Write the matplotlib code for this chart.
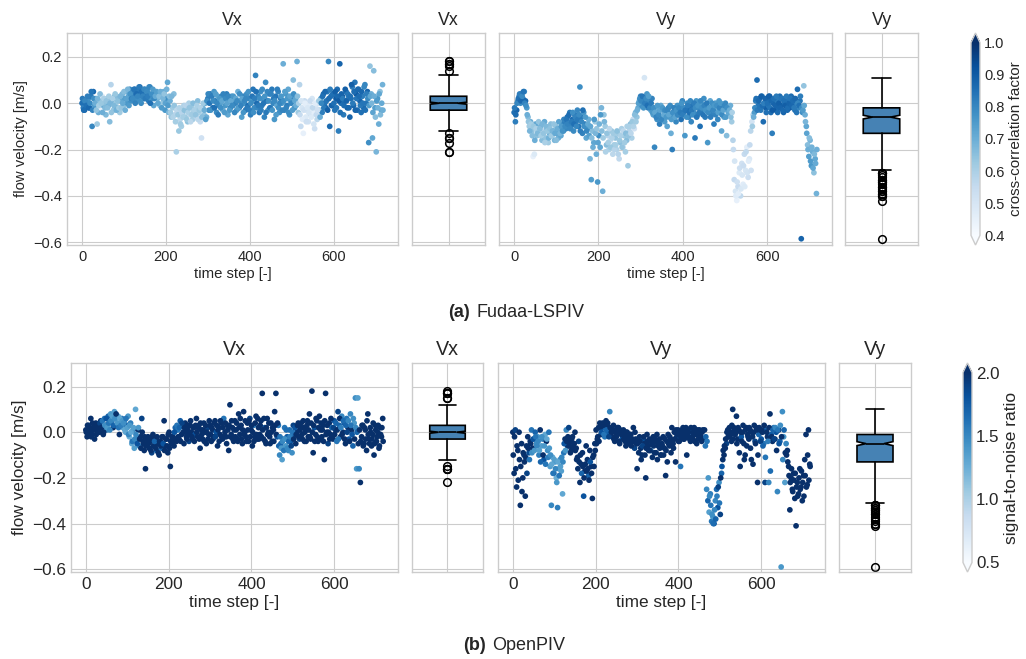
import numpy as np
import matplotlib
matplotlib.use("Agg")
import matplotlib.pyplot as plt
from matplotlib.colors import Normalize
from matplotlib.cm import ScalarMappable

plt.style.use("seaborn-v0_8-whitegrid")
plt.rcParams["font.family"] = ["Liberation Sans", "DejaVu Sans"]

# ---------------------------------------------------------------- data
# two interleaved samplings of the 720-frame sequence
time_step_a = np.arange(0, 720, 3)
time_step_b = np.arange(1, 720, 3)

# (a) Fudaa-LSPIV, frames 0, 3, 6, ...
fud_vx_a = [
    0.00, -0.02, -0.03, 0.01, -0.01, 0.02, -0.02, 0.03, -0.10, 0.05,
    -0.01, 0.02, -0.09, -0.04, 0.01, -0.02, 0.03, -0.01, 0.00, -0.05,
    0.02, -0.01, -0.08, 0.08, 0.01, -0.03, 0.03, 0.00, -0.02, 0.02,
    -0.04, 0.01, 0.04, -0.01, 0.02, 0.05, 0.00, 0.03, 0.06, 0.01,
    0.04, 0.02, 0.06, 0.01, 0.05, 0.03, 0.07, 0.00, 0.04, 0.02,
    0.06, 0.03, 0.05, 0.01, 0.07, 0.02, 0.04, -0.01, 0.05, 0.03,
    0.02, 0.04, -0.01, 0.03, 0.00, 0.05, -0.03, 0.02, 0.09, -0.04,
    0.01, -0.06, -0.02, 0.04, -0.05, -0.21, -0.03, -0.12, -0.07, -0.10,
    -0.04, -0.01, -0.06, -0.03, -0.08, 0.00, -0.05, -0.02, -0.07, -0.04,
    -0.03, -0.06, 0.01, -0.04, -0.08, -0.15, -0.02, -0.05, 0.00, -0.06,
    0.02, -0.03, 0.04, 0.00, -0.02, 0.05, 0.01, -0.04, 0.03, -0.01,
    0.00, 0.03, -0.03, 0.02, -0.01, 0.04, -0.05, 0.01, -0.02, 0.03,
    -0.01, 0.02, 0.00, -0.03, 0.05, -0.02, 0.01, -0.06, 0.03, 0.00,
    -0.03, 0.04, -0.01, 0.02, -0.05, 0.01, 0.06, -0.02, 0.12, 0.00,
    0.03, -0.04, 0.05, -0.01, 0.02, -0.06, 0.09, 0.01, -0.03, 0.04,
    -0.02, 0.06, 0.00, -0.07, 0.03, -0.01, 0.05, -0.04, 0.02, 0.00,
    0.17, -0.03, 0.04, -0.01, 0.06, -0.05, 0.01, 0.03, 0.10, -0.02,
    0.02, 0.18, -0.04, 0.08, -0.10, -0.02, -0.13, 0.01, -0.06, -0.03,
    -0.08, -0.01, -0.05, 0.02, -0.04, -0.11, -0.02, -0.07, 0.00, -0.03,
    0.02, -0.04, 0.04, 0.00, -0.02, 0.05, 0.18, -0.10, 0.03, -0.01,
    0.04, -0.03, 0.02, 0.06, -0.12, 0.17, 0.00, 0.03, -0.05, 0.01,
    0.05, -0.02, 0.03, -0.06, 0.02, 0.07, -0.01, 0.09, 0.04, -0.03,
    0.06, 0.01, -0.04, 0.03, -0.02, 0.08, 0.00, 0.05, -0.17, 0.16,
    0.04, -0.15, 0.14, -0.02, -0.21, 0.02, -0.09, 0.05, -0.03, 0.08,
]
fud_vy_a = [
    -0.04, -0.08, -0.03, 0.01, 0.03, 0.00, 0.04, 0.02, 0.05, 0.01,
    -0.02, -0.06, -0.10, -0.08, -0.12, -0.23, -0.22, -0.09, -0.14, -0.11,
    -0.13, -0.10, -0.16, -0.12, -0.08, -0.15, -0.11, -0.17, -0.13, -0.09,
    -0.14, -0.12, -0.16, -0.10, -0.13, -0.15, -0.11, -0.14, -0.09, -0.12,
    -0.08, -0.11, -0.06, -0.09, -0.04, -0.10, -0.07, -0.12, -0.05, -0.08,
    -0.03, -0.10, 0.07, -0.06, -0.13, -0.04, -0.09, -0.15, -0.11, -0.07,
    -0.24, -0.33, -0.12, -0.17, -0.08, -0.22, -0.34, -0.14, -0.19, -0.02,
    -0.38, -0.05, -0.10, -0.18, -0.14, -0.20, -0.16, -0.12, -0.22, -0.18,
    -0.15, -0.20, -0.13, -0.24, -0.17, -0.11, -0.19, -0.14, -0.21, -0.16,
    -0.27, -0.12, -0.09, -0.15, -0.07, -0.11, -0.04, -0.06, -0.02, 0.01,
    0.03, -0.01, 0.02, 0.11, 0.00, 0.04, -0.02, 0.01, -0.03, 0.02,
    -0.05, -0.19, -0.02, -0.07, -0.04, -0.09, -0.01, -0.06, -0.03, -0.08,
    -0.04, -0.10, -0.02, -0.06, -0.13, -0.20, -0.05, -0.03, -0.08, -0.01,
    -0.05, -0.02, -0.07, 0.01, -0.04, -0.14, -0.03, 0.00, -0.06, -0.02,
    -0.08, -0.01, -0.04, -0.15, 0.01, -0.05, -0.02, -0.10, 0.00, -0.03,
    0.02, -0.06, -0.01, -0.17, -0.03, 0.01, -0.05, -0.02, -0.09, 0.00,
    -0.03, -0.07, 0.01, -0.04, -0.12, -0.02, -0.06, 0.00, -0.14, -0.03,
    -0.05, -0.01, -0.08, -0.16, -0.33, -0.38, -0.42, -0.36, -0.30, -0.40,
    -0.26, -0.35, -0.22, -0.29, -0.19, -0.32, -0.24, -0.12, -0.08, -0.05,
    -0.04, 0.01, 0.10, -0.01, 0.02, -0.03, 0.03, -0.08, 0.00, -0.02,
    0.02, -0.01, 0.03, -0.04, -0.13, 0.00, 0.02, -0.03, 0.01, -0.02,
    0.03, -0.01, 0.02, -0.04, 0.00, 0.01, -0.03, 0.02, -0.02, 0.03,
    -0.01, 0.02, -0.03, 0.00, 0.06, -0.02, 0.01, -0.585, -0.04, 0.075,
    -0.05, -0.10, -0.18, -0.23, -0.16, -0.27, -0.21, -0.30, -0.24, -0.39,
]
fud_cc_a = [
    0.85, 0.82, 0.88, 0.80, 0.84, 0.78, 0.86, 0.83, 0.80, 0.87,
    0.75, 0.66, 0.62, 0.70, 0.64, 0.45, 0.48, 0.72, 0.65, 0.67,
    0.63, 0.69, 0.66, 0.58, 0.71, 0.64, 0.68, 0.62, 0.70, 0.66,
    0.62, 0.72, 0.68, 0.65, 0.74, 0.70, 0.76, 0.72, 0.80, 0.78,
    0.82, 0.80, 0.85, 0.78, 0.83, 0.81, 0.86, 0.79, 0.84, 0.82,
    0.80, 0.84, 0.78, 0.83, 0.81, 0.77, 0.82, 0.72, 0.76, 0.70,
    0.68, 0.74, 0.66, 0.72, 0.63, 0.70, 0.76, 0.78, 0.72, 0.68,
    0.70, 0.64, 0.62, 0.66, 0.58, 0.60, 0.55, 0.63, 0.57, 0.61,
    0.64, 0.59, 0.62, 0.56, 0.65, 0.60, 0.58, 0.63, 0.61, 0.66,
    0.62, 0.58, 0.66, 0.60, 0.55, 0.52, 0.68, 0.64, 0.72, 0.70,
    0.82, 0.78, 0.84, 0.50, 0.86, 0.76, 0.83, 0.79, 0.72, 0.81,
    0.74, 0.80, 0.70, 0.78, 0.76, 0.82, 0.72, 0.77, 0.80, 0.75,
    0.79, 0.73, 0.81, 0.76, 0.70, 0.82, 0.78, 0.74, 0.80, 0.77,
    0.83, 0.78, 0.85, 0.80, 0.82, 0.76, 0.84, 0.79, 0.81, 0.86,
    0.80, 0.84, 0.78, 0.83, 0.76, 0.81, 0.79, 0.85, 0.74, 0.82,
    0.78, 0.83, 0.80, 0.76, 0.84, 0.72, 0.81, 0.78, 0.82, 0.75,
    0.70, 0.80, 0.76, 0.82, 0.72, 0.78, 0.74, 0.80, 0.66, 0.77,
    0.73, 0.70, 0.62, 0.58, 0.55, 0.50, 0.45, 0.54, 0.48, 0.56,
    0.52, 0.47, 0.55, 0.50, 0.46, 0.53, 0.49, 0.57, 0.51, 0.60,
    0.75, 0.82, 0.86, 0.84, 0.88, 0.83, 0.80, 0.86, 0.85, 0.89,
    0.87, 0.84, 0.90, 0.86, 0.82, 0.88, 0.85, 0.91, 0.83, 0.87,
    0.86, 0.89, 0.84, 0.88, 0.85, 0.82, 0.87, 0.84, 0.90, 0.86,
    0.84, 0.88, 0.85, 0.82, 0.86, 0.80, 0.84, 0.88, 0.78, 0.64,
    0.70, 0.72, 0.66, 0.74, 0.68, 0.76, 0.70, 0.65, 0.72, 0.69,
]

# (a) Fudaa-LSPIV, frames 1, 4, 7, ...
fud_vx_b = [
    0.02, -0.03, 0.01, -0.01, 0.03, -0.02, 0.00, 0.05, -0.03, 0.02,
    0.00, -0.03, 0.02, -0.01, 0.04, 0.00, -0.04, 0.02, -0.02, 0.01,
    -0.02, 0.03, 0.00, -0.04, 0.02, -0.01, 0.04, -0.03, 0.01, -0.02,
    0.03, -0.02, 0.00, 0.05, -0.03, 0.02, 0.06, -0.01, 0.04, 0.02,
    0.02, 0.06, 0.00, 0.04, 0.03, 0.07, 0.01, 0.05, 0.03, 0.06,
    0.02, 0.05, 0.03, 0.07, 0.00, 0.04, 0.06, 0.02, 0.03, 0.05,
    0.00, 0.03, 0.05, -0.02, 0.02, 0.04, 0.00, 0.06, -0.01, 0.03,
    -0.04, 0.03, -0.06, -0.01, -0.08, -0.03, -0.05, -0.02, -0.09, -0.04,
    -0.06, -0.03, -0.01, -0.07, -0.04, -0.02, -0.08, -0.05, 0.00, -0.03,
    -0.05, -0.01, -0.07, -0.03, -0.02, -0.06, 0.00, -0.03, -0.07, 0.01,
    0.04, 0.00, -0.03, 0.03, 0.01, -0.02, 0.04, 0.00, -0.05, 0.02,
    -0.02, 0.01, 0.04, -0.04, 0.02, 0.00, 0.03, -0.03, 0.01, -0.01,
    0.03, -0.04, 0.02, 0.01, -0.02, 0.04, -0.01, 0.02, -0.04, 0.01,
    0.02, -0.02, 0.05, -0.03, 0.00, 0.03, -0.04, 0.02, 0.05, -0.02,
    -0.01, 0.02, -0.03, 0.06, 0.00, 0.03, -0.04, 0.05, 0.01, -0.02,
    0.04, -0.03, 0.02, 0.01, -0.05, 0.06, -0.02, 0.00, 0.03, -0.03,
    0.01, 0.05, -0.02, 0.02, -0.04, 0.03, 0.00, -0.03, 0.04, 0.01,
    -0.01, 0.03, 0.00, -0.05, 0.01, -0.07, -0.03, 0.00, -0.08, -0.02,
    -0.04, 0.01, -0.06, -0.02, -0.09, 0.00, -0.05, -0.03, 0.01, -0.06,
    0.00, 0.03, -0.02, 0.05, 0.01, -0.03, 0.02, 0.06, -0.01, 0.04,
    0.00, 0.05, -0.02, 0.03, 0.01, -0.04, 0.04, 0.02, -0.01, 0.06,
    0.01, 0.04, -0.02, 0.03, 0.08, 0.00, 0.05, -0.03, 0.02, 0.06,
    0.03, -0.01, 0.05, 0.00, 0.07, -0.03, 0.04, 0.02, -0.01, 0.03,
    0.00, -0.04, 0.03, -0.06, 0.01, -0.02, 0.04, -0.05, 0.00, -0.03,
]
fud_vy_b = [
    -0.02, -0.05, 0.00, 0.02, 0.04, 0.01, 0.03, 0.05, 0.00, -0.01,
    -0.05, -0.08, -0.12, -0.09, -0.14, -0.10, -0.16, -0.11, -0.13, -0.08,
    -0.11, -0.14, -0.09, -0.13, -0.17, -0.10, -0.12, -0.15, -0.11, -0.14,
    -0.12, -0.09, -0.13, -0.16, -0.11, -0.08, -0.13, -0.10, -0.12, -0.07,
    -0.10, -0.07, -0.09, -0.05, -0.11, -0.08, -0.04, -0.09, -0.06, -0.10,
    -0.07, -0.05, -0.12, -0.08, -0.03, -0.10, -0.06, -0.12, -0.09, -0.14,
    -0.10, -0.15, -0.19, -0.07, -0.13, -0.11, -0.17, -0.09, -0.05, -0.12,
    -0.15, -0.08, -0.21, -0.13, -0.17, -0.11, -0.19, -0.15, -0.13, -0.20,
    -0.18, -0.12, -0.22, -0.16, -0.14, -0.19, -0.12, -0.17, -0.13, -0.10,
    -0.14, -0.10, -0.13, -0.08, -0.10, -0.05, -0.08, -0.03, 0.00, 0.02,
    0.01, 0.03, -0.02, 0.00, 0.02, -0.01, 0.03, -0.02, 0.00, -0.04,
    -0.02, -0.04, -0.06, -0.01, -0.05, -0.03, -0.07, -0.02, -0.05, -0.03,
    -0.06, -0.03, -0.05, -0.01, -0.07, -0.04, -0.02, -0.06, -0.03, -0.05,
    -0.02, -0.04, 0.00, -0.05, -0.02, -0.03, -0.06, -0.01, -0.04, 0.01,
    -0.03, -0.05, 0.00, -0.02, -0.06, -0.01, -0.04, 0.01, -0.02, -0.05,
    -0.01, -0.03, 0.00, -0.04, -0.02, -0.06, 0.00, -0.03, -0.01, -0.05,
    -0.01, -0.04, -0.02, 0.00, -0.05, -0.03, -0.01, -0.06, -0.02, -0.04,
    -0.03, -0.06, -0.04, -0.20, -0.25, -0.40, -0.34, -0.39, -0.28, -0.37,
    -0.31, -0.27, -0.36, -0.21, -0.30, -0.25, -0.18, -0.29, -0.10, -0.06,
    -0.02, 0.02, -0.03, 0.01, -0.02, 0.03, -0.01, 0.00, 0.02, -0.04,
    0.00, 0.03, -0.02, 0.01, -0.03, 0.02, -0.01, 0.03, -0.04, 0.00,
    -0.02, 0.02, -0.03, 0.01, -0.01, 0.03, -0.02, 0.00, 0.02, -0.01,
    0.01, -0.02, 0.02, -0.04, 0.00, -0.01, 0.03, -0.02, -0.03, -0.01,
    -0.08, -0.13, -0.20, -0.15, -0.25, -0.19, -0.28, -0.22, -0.26, -0.20,
]
fud_cc_b = [
    0.83, 0.86, 0.80, 0.85, 0.82, 0.87, 0.79, 0.84, 0.81, 0.78,
    0.70, 0.64, 0.68, 0.61, 0.66, 0.63, 0.70, 0.60, 0.67, 0.64,
    0.66, 0.61, 0.68, 0.64, 0.60, 0.67, 0.63, 0.69, 0.65, 0.62,
    0.68, 0.64, 0.71, 0.66, 0.70, 0.73, 0.68, 0.75, 0.77, 0.81,
    0.79, 0.84, 0.81, 0.86, 0.80, 0.83, 0.78, 0.85, 0.81, 0.80,
    0.83, 0.79, 0.82, 0.80, 0.85, 0.78, 0.75, 0.80, 0.71, 0.74,
    0.72, 0.66, 0.70, 0.75, 0.68, 0.64, 0.73, 0.69, 0.75, 0.66,
    0.62, 0.68, 0.59, 0.64, 0.61, 0.57, 0.63, 0.59, 0.62, 0.58,
    0.61, 0.65, 0.58, 0.63, 0.60, 0.64, 0.57, 0.62, 0.66, 0.60,
    0.64, 0.60, 0.57, 0.63, 0.59, 0.66, 0.62, 0.70, 0.74, 0.78,
    0.80, 0.84, 0.77, 0.82, 0.79, 0.85, 0.74, 0.80, 0.83, 0.76,
    0.78, 0.72, 0.81, 0.75, 0.79, 0.73, 0.80, 0.76, 0.71, 0.79,
    0.76, 0.80, 0.72, 0.79, 0.75, 0.78, 0.81, 0.73, 0.77, 0.80,
    0.80, 0.83, 0.77, 0.82, 0.79, 0.84, 0.78, 0.82, 0.85, 0.80,
    0.83, 0.78, 0.82, 0.79, 0.84, 0.77, 0.83, 0.80, 0.78, 0.84,
    0.81, 0.77, 0.83, 0.79, 0.75, 0.82, 0.78, 0.80, 0.76, 0.81,
    0.78, 0.74, 0.81, 0.76, 0.79, 0.73, 0.80, 0.75, 0.78, 0.72,
    0.70, 0.66, 0.60, 0.55, 0.50, 0.47, 0.52, 0.46, 0.53, 0.49,
    0.50, 0.54, 0.48, 0.56, 0.51, 0.47, 0.55, 0.52, 0.62, 0.70,
    0.80, 0.85, 0.83, 0.87, 0.84, 0.89, 0.86, 0.82, 0.88, 0.85,
    0.85, 0.89, 0.84, 0.87, 0.90, 0.85, 0.88, 0.83, 0.86, 0.89,
    0.88, 0.84, 0.87, 0.85, 0.89, 0.83, 0.86, 0.88, 0.84, 0.87,
    0.86, 0.83, 0.87, 0.84, 0.80, 0.85, 0.82, 0.79, 0.75, 0.72,
    0.68, 0.73, 0.70, 0.66, 0.75, 0.69, 0.72, 0.67, 0.71, 0.70,
]

# (b) OpenPIV, frames 0, 3, 6, ...
opv_vx_a = [
    0.01, -0.02, 0.03, 0.00, 0.06, -0.01, 0.02, -0.03, 0.04, 0.01,
    0.03, 0.00, 0.05, 0.02, -0.01, 0.06, 0.03, 0.01, 0.07, 0.04,
    0.08, 0.05, 0.02, 0.09, 0.06, 0.03, 0.07, -0.01, 0.04, 0.06,
    0.02, 0.05, 0.00, 0.03, 0.07, -0.02, 0.04, -0.05, 0.01, -0.07,
    0.10, -0.03, 0.01, -0.06, -0.02, 0.06, -0.04, -0.08, -0.16, -0.05,
    -0.02, -0.07, -0.04, -0.09, -0.01, -0.06, -0.03, -0.08, -0.05, -0.10,
    -0.04, -0.07, -0.02, 0.05, -0.06, -0.03, -0.09, 0.00, -0.15, -0.05,
    -0.02, -0.06, 0.02, -0.04, 0.01, -0.03, 0.05, -0.01, 0.03, -0.05,
    0.04, -0.02, 0.01, -0.04, 0.03, 0.00, -0.03, 0.02, -0.01, 0.06,
    -0.02, 0.03, -0.07, 0.01, -0.03, 0.04, 0.00, -0.05, 0.02, -0.01,
    0.03, -0.04, 0.01, -0.02, 0.05, 0.00, -0.06, 0.02, -0.01, 0.04,
    -0.03, 0.06, 0.00, -0.02, 0.03, -0.08, 0.12, -0.01, 0.02, -0.04,
    0.05, 0.01, -0.03, 0.08, -0.01, 0.03, -0.05, 0.09, 0.00, -0.02,
    0.04, -0.04, 0.06, 0.01, -0.06, 0.03, -0.02, 0.07, -0.03, 0.02,
    -0.01, 0.05, 0.17, -0.03, 0.02, -0.05, 0.06, 0.00, -0.02, 0.04,
    -0.04, 0.01, 0.09, 0.17, -0.02, 0.03, -0.10, -0.05, -0.12, -0.03,
    0.02, -0.06, -0.02, -0.08, 0.01, -0.04, -0.09, 0.03, -0.01, -0.05,
    0.00, 0.04, -0.03, 0.02, -0.01, 0.05, -0.04, 0.01, 0.03, -0.02,
    0.08, -0.03, 0.18, -0.09, 0.02, -0.01, 0.05, -0.04, 0.07, 0.01,
    -0.02, 0.03, -0.12, 0.17, 0.00, -0.05, 0.04, -0.01, 0.02, -0.03,
    0.05, 0.01, -0.04, 0.09, 0.03, -0.02, 0.07, 0.00, 0.04, -0.05,
    0.06, 0.02, -0.03, 0.08, 0.01, -0.06, 0.04, 0.15, -0.16, 0.15,
    -0.16, -0.22, -0.02, 0.03, -0.05, 0.01, -0.08, 0.08, -0.03, 0.02,
    -0.06, -0.01, -0.10, 0.03, -0.04, 0.00, -0.07, 0.02, -0.02, 0.06,
]
opv_vy_a = [
    0.00, -0.18, 0.01, -0.24, -0.08, 0.00, -0.32, -0.05, -0.20, -0.10,
    -0.28, -0.06, -0.02, -0.09, -0.04, 0.01, -0.07, -0.03, 0.00, -0.05,
    -0.02, -0.10, 0.01, -0.06, -0.03, -0.12, -0.01, -0.04, -0.08, 0.00,
    -0.15, -0.32, -0.11, -0.18, -0.13, -0.20, -0.33, -0.16, -0.12, -0.17,
    -0.27, -0.09, -0.03, 0.01, -0.06, 0.02, -0.04, -0.08, -0.02, -0.05,
    0.00, -0.07, -0.11, -0.04, -0.22, -0.14, -0.09, -0.28, -0.17, -0.06,
    -0.12, -0.19, -0.08, -0.15, -0.29, -0.10, -0.05, 0.01, -0.03, 0.02,
    0.04, -0.01, 0.02, 0.03, -0.02, 0.05, 0.00, 0.02, 0.09, 0.01,
    -0.02, 0.03, -0.04, 0.01, -0.01, 0.02, -0.05, 0.00, -0.03, 0.01,
    -0.02, -0.06, 0.00, -0.03, -0.05, -0.01, -0.04, 0.02, -0.07, -0.03,
    -0.16, -0.04, -0.02, -0.07, -0.10, -0.03, -0.05, -0.20, -0.01, -0.06,
    -0.03, -0.08, -0.05, -0.02, -0.09, -0.04, -0.01, -0.06, -0.03, -0.10,
    -0.05, -0.02, -0.07, -0.19, -0.04, -0.01, -0.06, -0.03, 0.02, -0.05,
    0.00, -0.13, -0.02, 0.01, -0.04, -0.15, -0.01, 0.02, -0.03, 0.00,
    -0.10, -0.02, 0.01, -0.04, 0.00, -0.03, 0.02, -0.01, -0.05, 0.01,
    -0.02, 0.00, -0.04, 0.01, -0.03, -0.06, -0.25, -0.30, -0.35, -0.27,
    -0.39, -0.37, -0.40, -0.30, -0.25, -0.33, -0.22, -0.36, -0.18, -0.12,
    -0.10, -0.07, -0.05, 0.01, -0.02, 0.00, -0.04, 0.10, 0.02, -0.01,
    0.07, -0.03, 0.01, -0.15, -0.02, 0.00, -0.05, -0.10, 0.02, -0.01,
    -0.03, 0.01, -0.12, -0.02, 0.00, -0.04, 0.02, -0.22, -0.01, 0.01,
    -0.03, 0.00, -0.05, -0.22, 0.01, -0.02, -0.22, 0.08, -0.01, -0.04,
    0.02, -0.03, 0.00, -0.26, 0.01, -0.04, -0.59, 0.09, -0.02, -0.22,
    -0.05, -0.08, -0.15, -0.34, -0.20, -0.25, -0.18, -0.29, -0.41, -0.22,
    -0.27, -0.16, -0.24, -0.30, -0.19, -0.12, -0.01, -0.23, 0.01, -0.14,
]
opv_snr_a = [
    2.6, 2.3, 1.9, 2.8, 2.4, 2.1, 2.7, 2.2, 2.5, 1.95,
    2.4, 2.0, 2.6, 1.85, 2.2, 1.6, 2.3, 1.5, 1.7, 1.45,
    1.4, 1.55, 2.1, 1.35, 1.5, 1.8, 1.3, 2.4, 1.45, 1.6,
    1.35, 1.5, 1.3, 1.7, 1.4, 1.25, 1.55, 1.3, 1.45, 1.35,
    1.3, 1.6, 2.2, 1.5, 2.5, 1.9, 2.3, 2.6, 2.4, 2.1,
    2.5, 2.2, 2.7, 1.9, 2.4, 2.6, 2.3, 1.8, 2.5, 2.8,
    2.2, 1.7, 2.6, 2.4, 2.1, 2.7, 2.3, 2.5, 2.6, 2.2,
    2.4, 2.0, 1.7, 2.5, 1.6, 2.3, 1.75, 2.6, 1.5, 2.2,
    2.5, 2.1, 2.7, 1.9, 2.4, 2.6, 2.2, 2.8, 1.8, 2.3,
    2.6, 2.2, 2.4, 2.7, 2.1, 2.5, 2.3, 2.6, 1.9, 2.4,
    2.7, 2.3, 2.5, 2.2, 2.6, 1.8, 2.4, 2.7, 2.1, 2.5,
    2.3, 1.6, 2.6, 2.4, 2.2, 2.5, 2.7, 2.1, 2.6, 2.3,
    2.5, 2.2, 2.8, 2.4, 2.0, 2.6, 2.3, 2.5, 2.1, 2.7,
    2.4, 2.6, 1.9, 2.5, 2.2, 1.6, 2.7, 2.3, 2.5, 2.1,
    2.6, 2.3, 2.8, 2.2, 1.8, 2.5, 2.4, 2.7, 2.1, 2.5,
    2.3, 2.6, 2.4, 2.7, 1.8, 1.6, 1.5, 1.7, 1.35, 1.55,
    1.6, 1.4, 1.75, 1.5, 1.65, 1.8, 1.45, 1.9, 1.7, 2.1,
    2.2, 2.5, 1.9, 2.4, 2.6, 2.3, 2.7, 2.2, 2.5, 2.4,
    2.6, 2.2, 2.8, 2.4, 1.8, 2.5, 2.3, 2.7, 2.1, 2.4,
    2.5, 2.3, 2.6, 2.7, 2.2, 1.9, 2.4, 2.6, 1.7, 2.3,
    1.8, 2.4, 1.6, 1.9, 1.7, 2.3, 1.5, 2.2, 1.75, 2.5,
    1.6, 2.1, 1.8, 1.5, 2.3, 1.7, 1.4, 1.45, 1.4, 1.35,
    1.5, 2.6, 2.3, 2.7, 2.4, 2.8, 2.5, 2.2, 2.6, 2.4,
    2.7, 2.3, 2.5, 2.8, 2.2, 2.6, 2.4, 2.7, 2.3, 2.5,
]

# (b) OpenPIV, frames 1, 4, 7, ...
opv_vx_b = [
    0.00, 0.03, -0.01, 0.02, -0.02, 0.04, 0.01, 0.03, -0.01, 0.02,
    0.01, 0.04, 0.02, 0.05, 0.00, 0.03, 0.06, 0.02, 0.04, 0.01,
    0.05, 0.07, 0.03, 0.06, 0.08, 0.04, 0.02, 0.06, 0.03, 0.05,
    0.04, 0.01, 0.06, 0.02, -0.01, 0.03, 0.00, -0.04, 0.02, -0.03,
    -0.01, -0.05, 0.02, -0.03, -0.07, 0.00, -0.05, -0.02, -0.06, -0.03,
    -0.05, -0.03, -0.08, -0.02, -0.06, -0.04, -0.07, -0.02, -0.09, -0.04,
    -0.06, -0.02, -0.05, -0.08, -0.03, -0.06, -0.01, -0.07, -0.04, -0.02,
    -0.04, 0.00, -0.03, 0.03, -0.02, 0.02, -0.04, 0.04, 0.00, 0.02,
    0.00, -0.03, 0.03, -0.01, 0.05, -0.02, 0.02, -0.04, 0.03, 0.00,
    0.02, -0.03, 0.04, -0.01, 0.01, -0.04, 0.03, 0.00, -0.03, 0.05,
    -0.01, 0.02, -0.03, 0.04, -0.02, 0.03, 0.01, -0.04, 0.05, -0.02,
    0.02, -0.02, 0.04, -0.05, 0.01, 0.03, -0.02, 0.05, -0.03, 0.01,
    -0.02, 0.04, -0.04, 0.02, 0.06, -0.03, 0.01, -0.01, 0.05, -0.04,
    0.01, 0.05, -0.02, 0.03, 0.00, -0.04, 0.04, -0.01, 0.06, -0.03,
    0.03, -0.02, 0.01, 0.06, -0.04, 0.02, -0.01, 0.04, -0.05, 0.00,
    0.02, -0.04, 0.03, -0.01, 0.04, -0.06, -0.02, -0.07, -0.04, -0.08,
    -0.03, 0.01, -0.07, -0.04, -0.02, -0.06, 0.00, -0.03, 0.02, -0.01,
    0.03, -0.02, 0.01, 0.04, -0.03, 0.02, 0.00, -0.04, 0.05, 0.01,
    -0.02, 0.04, 0.00, 0.03, -0.04, 0.06, -0.02, 0.02, -0.03, 0.04,
    0.01, -0.04, 0.05, -0.01, 0.03, 0.00, -0.03, 0.06, -0.02, 0.02,
    -0.01, 0.04, 0.01, -0.03, 0.06, 0.02, -0.01, 0.05, -0.03, 0.03,
    0.00, 0.05, -0.04, 0.03, -0.01, 0.06, -0.03, 0.02, 0.00, -0.05,
    0.01, -0.04, 0.03, -0.06, 0.02, -0.03, 0.05, -0.01, -0.05, 0.00,
    -0.03, 0.04, -0.05, 0.01, -0.02, 0.03, -0.06, -0.01, 0.02, -0.04,
]
opv_vy_b = [
    -0.10, -0.02, -0.16, -0.06, -0.21, -0.12, -0.15, -0.26, -0.09, -0.13,
    -0.11, -0.18, -0.07, -0.12, -0.05, -0.09, -0.03, -0.08, -0.02, -0.06,
    -0.04, -0.08, -0.13, -0.02, -0.10, -0.06, -0.14, -0.03, -0.11, -0.07,
    -0.10, -0.14, -0.18, -0.12, -0.16, -0.22, -0.13, -0.19, -0.15, -0.11,
    -0.13, -0.05, -0.08, -0.04, -0.02, -0.06, -0.09, -0.03, -0.07, -0.05,
    -0.08, -0.12, -0.16, -0.13, -0.10, -0.18, -0.15, -0.20, -0.14, -0.17,
    -0.16, -0.21, -0.13, -0.18, -0.11, -0.15, -0.08, -0.05, -0.02, -0.04,
    0.02, 0.00, 0.04, -0.01, 0.03, 0.01, 0.04, -0.02, 0.02, 0.00,
    0.01, -0.03, 0.00, -0.02, 0.02, -0.04, 0.01, -0.01, 0.00, -0.03,
    -0.04, 0.00, -0.05, -0.02, -0.01, -0.06, -0.03, -0.04, 0.00, -0.05,
    -0.05, -0.09, -0.04, -0.12, -0.06, -0.02, -0.10, -0.07, -0.04, -0.08,
    -0.08, -0.04, -0.11, -0.06, -0.03, -0.09, -0.12, -0.05, -0.07, -0.10,
    -0.06, -0.10, -0.03, -0.08, -0.13, -0.05, -0.02, -0.09, -0.04, -0.07,
    -0.03, 0.01, -0.01, -0.04, 0.00, -0.02, 0.01, -0.03, -0.01, 0.02,
    -0.01, 0.00, -0.03, 0.02, -0.02, 0.00, -0.04, 0.01, -0.01, -0.03,
    0.01, -0.02, 0.00, -0.03, 0.01, -0.02, -0.04, -0.20, -0.28, -0.32,
    -0.36, -0.40, -0.34, -0.38, -0.28, -0.24, -0.31, -0.20, -0.15, -0.08,
    -0.06, -0.03, 0.00, -0.02, 0.02, -0.01, 0.03, -0.03, 0.01, 0.00,
    -0.05, 0.02, -0.09, 0.00, -0.04, 0.03, -0.12, 0.01, -0.06, -0.02,
    0.02, -0.07, 0.00, -0.14, 0.03, -0.05, 0.01, -0.10, 0.02, -0.04,
    0.01, -0.06, 0.03, -0.11, 0.00, -0.04, 0.02, -0.17, -0.02, 0.01,
    -0.03, 0.02, -0.08, 0.01, -0.05, 0.03, -0.02, -0.12, 0.01, -0.09,
    -0.10, -0.13, -0.19, -0.22, -0.16, -0.26, -0.21, -0.18, -0.24, -0.28,
    -0.20, -0.25, -0.17, -0.22, -0.28, -0.19, -0.24, -0.10, -0.21, -0.15,
]
opv_snr_b = [
    2.4, 2.7, 2.2, 2.5, 2.0, 2.6, 2.3, 2.8, 2.1, 2.4,
    2.2, 1.9, 2.5, 1.6, 2.0, 1.45, 1.8, 1.4, 1.6, 1.5,
    1.5, 1.35, 1.7, 1.45, 2.2, 1.4, 1.6, 1.3, 1.55, 1.4,
    1.45, 1.3, 1.6, 1.35, 1.5, 1.4, 1.3, 1.6, 1.35, 1.5,
    1.5, 1.8, 1.4, 2.3, 2.0, 2.5, 2.2, 2.4, 2.7, 2.3,
    2.3, 2.6, 2.0, 2.5, 2.2, 1.7, 2.4, 2.6, 2.2, 2.5,
    2.5, 2.2, 1.8, 2.6, 2.3, 2.4, 2.1, 2.6, 2.3, 2.5,
    2.2, 1.8, 2.4, 1.6, 2.1, 1.7, 2.5, 1.9, 2.3, 2.4,
    2.3, 2.6, 2.0, 2.5, 2.2, 2.7, 2.4, 2.1, 2.6, 2.4,
    2.4, 2.7, 2.1, 2.5, 2.3, 2.6, 2.2, 2.4, 2.7, 2.2,
    2.5, 2.2, 2.6, 2.3, 1.9, 2.5, 2.7, 2.2, 2.4, 2.6,
    2.5, 2.3, 2.1, 2.6, 2.4, 2.2, 2.5, 2.7, 2.3, 2.5,
    2.3, 2.6, 2.2, 2.5, 2.7, 2.1, 2.4, 2.6, 2.3, 2.5,
    2.6, 2.2, 2.4, 2.7, 2.0, 2.5, 2.3, 2.6, 2.2, 2.4,
    2.4, 2.6, 2.2, 2.5, 2.3, 2.7, 2.1, 2.4, 2.6, 2.3,
    2.5, 2.2, 2.6, 2.3, 2.1, 1.7, 1.6, 1.4, 1.5, 1.6,
    1.45, 1.65, 1.5, 1.7, 1.55, 1.9, 1.6, 2.0, 1.8, 2.2,
    2.4, 2.2, 2.6, 2.1, 2.5, 2.3, 2.6, 2.4, 2.2, 2.5,
    2.3, 2.5, 2.1, 2.6, 2.4, 2.2, 2.7, 2.5, 2.3, 2.6,
    2.4, 2.6, 2.2, 2.5, 2.3, 2.7, 2.1, 2.4, 2.6, 1.9,
    2.1, 1.7, 2.3, 1.6, 2.0, 1.55, 2.2, 1.65, 2.4, 1.7,
    1.9, 1.5, 2.2, 1.6, 1.8, 1.45, 2.1, 1.5, 1.7, 2.3,
    2.5, 2.7, 2.4, 2.6, 2.3, 2.8, 2.5, 2.7, 2.4, 2.6,
    2.6, 2.4, 2.7, 2.5, 2.3, 2.8, 2.6, 2.4, 2.7, 2.5,
]

x_ticks = [0, 200, 400, 600]
y_ticks = [-0.6, -0.4, -0.2, 0.0, 0.2]
y_lim = (-0.612, 0.303)

time_step = np.concatenate([time_step_a, time_step_b])
fud_vx = np.concatenate([fud_vx_a, fud_vx_b])
fud_vy = np.concatenate([fud_vy_a, fud_vy_b])
fud_cc = np.concatenate([fud_cc_a, fud_cc_b])
opv_vx = np.concatenate([opv_vx_a, opv_vx_b])
opv_vy = np.concatenate([opv_vy_a, opv_vy_b])
opv_snr = np.concatenate([opv_snr_a, opv_snr_b])

# ---------------------------------------------------------------- layout
W, H = 1026, 659
fig = plt.figure(figsize=(W / 100, H / 100), dpi=100)


def axes_px(left, top, right, bottom, **kw):
    return fig.add_axes([left / W, 1 - bottom / H, (right - left) / W,
                         (bottom - top) / H], **kw)


box_style = dict(
    notch=True, patch_artist=True, widths=0.5,
    boxprops=dict(facecolor="steelblue", edgecolor="black", linewidth=1.2),
    medianprops=dict(color="black", linewidth=1.2),
    whiskerprops=dict(color="black", linewidth=1.2),
    capprops=dict(color="black", linewidth=1.2),
    flierprops=dict(marker="o", markerfacecolor="none",
                    markeredgecolor="black", markersize=5.5,
                    markeredgewidth=1.1),
)


def draw_row(top, bottom, cols, cbar_x, vx, vy, colour, norm, cbar_ticks,
             cbar_label, fs_tick, fs_label, fs_title, fs_cb_tick, fs_cb_label):
    ax_vx = axes_px(cols[0][0], top, cols[0][1], bottom)
    bx_vx = axes_px(cols[1][0], top, cols[1][1], bottom, sharey=ax_vx)
    ax_vy = axes_px(cols[2][0], top, cols[2][1], bottom, sharey=ax_vx)
    bx_vy = axes_px(cols[3][0], top, cols[3][1], bottom, sharey=ax_vx)

    for ax, vals, name in ((ax_vx, vx, "Vx"), (ax_vy, vy, "Vy")):
        ax.scatter(time_step, vals, c=colour, cmap="Blues", norm=norm,
                   s=17, linewidths=0)
        ax.set_xticks(x_ticks)
        ax.set_xlabel("time step [-]", fontsize=fs_label, labelpad=2)
        ax.set_title(name, fontsize=fs_title)
        ax.tick_params(labelsize=fs_tick)

    for bx, vals, name in ((bx_vx, vx, "Vx"), (bx_vy, vy, "Vy")):
        bx.boxplot(vals, **box_style)
        bx.set_xlim(0.5, 1.5)
        bx.set_xticks([1])
        bx.set_xticklabels([""])
        bx.set_title(name, fontsize=fs_title)

    for ax in (bx_vx, ax_vy, bx_vy):
        ax.tick_params(labelleft=False)

    ax_vx.set_yticks(y_ticks)
    ax_vx.set_ylim(*y_lim)
    ax_vx.set_ylabel("flow velocity [m/s]", fontsize=fs_label)
    ax_vx.tick_params(labelsize=fs_tick)

    cax = axes_px(cbar_x[0], top, cbar_x[1], bottom)
    cb = fig.colorbar(ScalarMappable(norm=norm, cmap="Blues"), cax=cax,
                      extend="both")
    cb.set_ticks(cbar_ticks)
    cb.ax.tick_params(size=0, labelsize=fs_cb_tick, pad=3)
    cb.outline.set_edgecolor("0.8")
    cb.set_label(cbar_label, fontsize=fs_cb_label, labelpad=3)


draw_row(33, 245, [(67, 398), (412, 485), (499, 832), (845, 918)], (971, 980),
         fud_vx, fud_vy, fud_cc, Normalize(0.4, 1.0),
         [0.4, 0.5, 0.6, 0.7, 0.8, 0.9, 1.0], "cross-correlation factor",
         10.5, 10.7, 12.8, 10.5, 11)

draw_row(363, 572, [(71, 398), (412, 483), (498, 825), (839, 911)], (963, 972),
         opv_vx, opv_vy, opv_snr, Normalize(0.5, 2.0),
         [0.5, 1.0, 1.5, 2.0], "signal-to-noise ratio",
         12.4, 12.4, 14.2, 12.2, 12.5)

# sub-figure captions
fig.text(448 / W, 1 - 313 / H, "(a)", fontsize=13, fontweight="bold",
         ha="left", va="center")
fig.text(476 / W, 1 - 313 / H, "Fudaa-LSPIV", fontsize=13,
         ha="left", va="center")
fig.text(463 / W, 1 - 646 / H, "(b)", fontsize=13, fontweight="bold",
         ha="left", va="center")
fig.text(492 / W, 1 - 646 / H, "OpenPIV", fontsize=13,
         ha="left", va="center")

fig.savefig("out.png", dpi=100)
